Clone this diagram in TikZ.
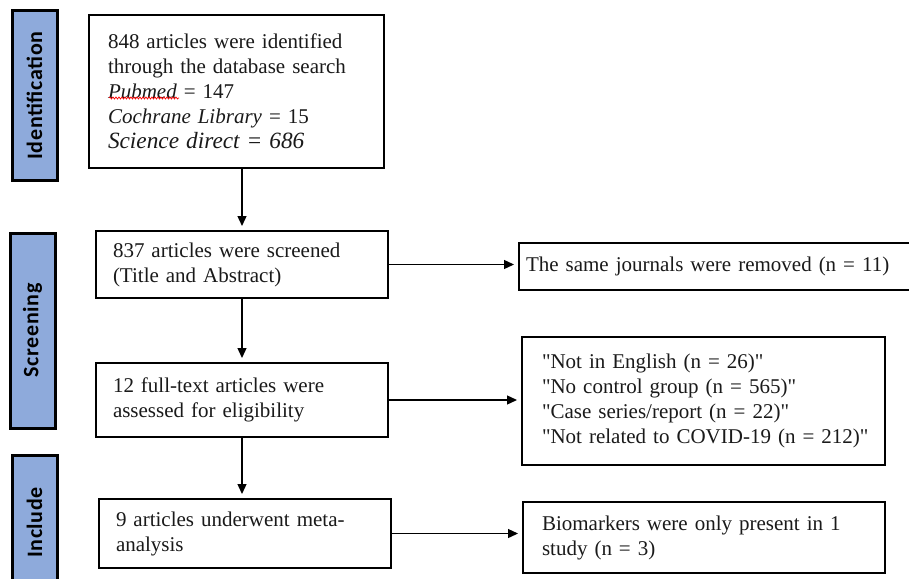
\documentclass[tikz,border=0pt]{standalone}
\usepackage{fontspec}
\setmainfont{Liberation Serif}
\newfontfamily\boxfont{Liberation Serif}
\newfontfamily\sidefont[LetterSpace=3]{Carlito}
\usetikzlibrary{arrows.meta,calc,decorations.pathmorphing}
\definecolor{sideblue}{HTML}{8EAADB}
\definecolor{inkgray}{HTML}{1A1A1A}
\newcommand{\qq}{\symbol{34}}
\tikzset{
  box/.style={draw=black,line width=2pt,rectangle,inner ysep=0pt,align=left,font=\boxfont\fontsize{21}{25}\selectfont,text=inkgray,anchor=center},
  side/.style={draw=black,line width=3pt,fill=sideblue,rectangle,inner sep=0pt},
  sidetext/.style={rotate=90,text=black,font=\sidefont\bfseries\fontsize{22}{24}\selectfont},
  arr/.style={line width=1.3pt,-{Triangle[length=10pt,width=9pt]},shorten >=4pt}
}
\begin{document}
\begin{tikzpicture}[x=1pt,y=-1pt]
\useasboundingbox[fill=white] (0,0) rectangle (909,578);
% side labels
\node[side,minimum width=45pt,minimum height=169pt] (s1) at (34.5,95.5) {};
\node[sidetext] (s1t) at (s1.center) {Identification};
\node[side,minimum width=45pt,minimum height=195pt] (s2) at (32.5,330.5) {};
\node[sidetext] (s2t) at (s2.center) {Screening};
\node[side,minimum width=45pt,minimum height=135pt] (s3) at (34.5,522.5) {};
\node[sidetext] (s3t) at (s3.center) {Include};
% main boxes
\node[box,minimum width=295pt,minimum height=153pt,text width=257pt,inner xsep=19pt] (b1) at (236.5,91.5)
{848 articles were identified\\through the database search\\\textit{Pubmed} = 147\\\textit{Cochrane Library} = 15\\{\fontsize{23.3}{25}\selectfont\textit{Science direct = 686}}\\[3pt]};
\node[box,minimum width=292pt,minimum height=67pt,text width=258pt,inner xsep=17pt] (b2) at (242,264.5)
{837 articles were screened\\(Title and Abstract)};
\node[box,minimum width=292pt,minimum height=74pt,text width=258pt,inner xsep=17pt] (b3) at (242,400)
{12 full-text articles were\\assessed for eligibility};
\node[box,minimum width=292pt,minimum height=69pt,text width=258pt,inner xsep=17pt] (b4) at (245,533.5)
{9 articles underwent meta-\\analysis};
% right boxes
\node[box,minimum width=393pt,minimum height=47pt,text width=379pt,inner xsep=7pt] (r1) at (715.5,266.5)
{The same journals were removed (n = 11)};
\node[box,minimum width=363pt,minimum height=128pt,text width=323pt,inner xsep=20pt] (r2) at (703.5,401)
{\qq Not in English (n = 26)\qq\\\qq No control group (n = 565)\qq\\\qq Case series/report (n = 22)\qq\\\mbox{\qq Not related to COVID-19 (n = 212)\qq}};
\node[box,minimum width=362pt,minimum height=71pt,text width=324pt,inner xsep=19pt] (r3) at (704,537.5)
{Biomarkers were only present in 1\\study (n = 3)};
% spell-check underline
\coordinate (u1) at (109,98);
\coordinate (u2) at (179,98);
\draw[red,line width=0.7pt,decorate,decoration={snake,amplitude=1pt,segment length=3pt}] (u1) -- (u2);
% connectors
\draw[arr] (b1.south -| b2.north) -- (b2.north);
\draw[arr] (b2.south) -- (b3.north);
\draw[arr] (b3.south) -- (b3.south |- b4.north);
\draw[arr] (b2.east) -- (b2.east -| r1.west);
\draw[arr] (b3.east) -- (b3.east -| r2.west);
\draw[arr] (b4.east) -- (b4.east -| r3.west);
\end{tikzpicture}
\end{document}
